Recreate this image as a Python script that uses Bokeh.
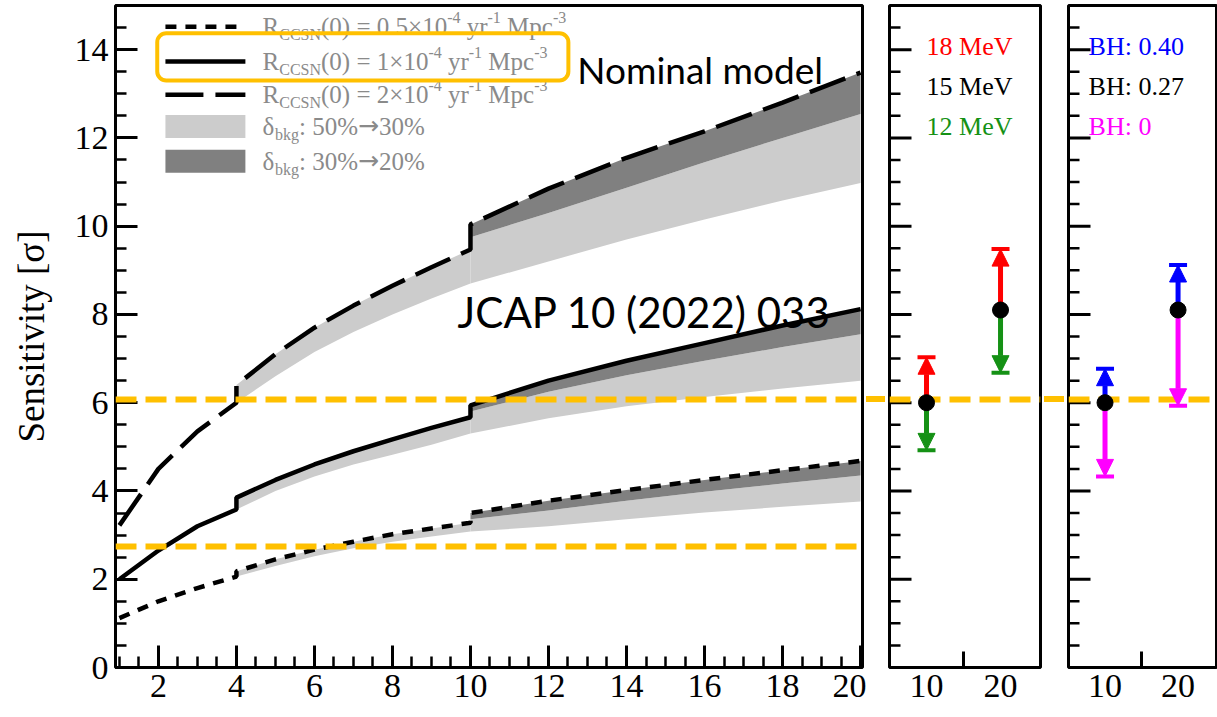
from bokeh.plotting import figure
from bokeh.layouts import row
from bokeh.models import (ColumnDataSource, Span, Label, BoxAnnotation, Arrow, NormalHead,
                          SingleIntervalTicker, FixedTicker, Range1d, Div)
from bokeh.core.properties import value
from bokeh.embed import file_html
from bokeh.resources import INLINE

# ---------------- data ----------------
x_early = [1, 2, 3, 4]
x_mid = [4, 5, 6, 7, 8, 9, 10]
x_late = [10, 12, 14, 16, 18, 20]

# R_CCSN(0) = 0.5e-4
r05_early = [1.12, 1.5, 1.8, 2.06]
r05_mid = [2.18, 2.45, 2.67, 2.85, 3.02, 3.15, 3.28]
r05_late = [3.5, 3.78, 4.02, 4.25, 4.47, 4.68]
r05_low_mid = [2.06, 2.3, 2.52, 2.7, 2.85, 2.97, 3.08]
r05_low_late = [3.08, 3.2, 3.36, 3.51, 3.64, 3.76]
r05_dark_late = [3.36, 3.56, 3.78, 3.98, 4.17, 4.35]

# R_CCSN(0) = 1e-4 (nominal)
r1_early = [2.0, 2.65, 3.2, 3.58]
r1_mid = [3.85, 4.25, 4.6, 4.9, 5.17, 5.43, 5.67]
r1_late = [5.94, 6.5, 6.95, 7.35, 7.75, 8.12]
r1_low_mid = [3.58, 4.0, 4.33, 4.6, 4.82, 5.05, 5.3]
r1_low_late = [5.3, 5.65, 5.92, 6.13, 6.32, 6.5]
r1_dark_late = [5.8, 6.25, 6.62, 6.95, 7.26, 7.55]

# R_CCSN(0) = 2e-4
r2_early = [3.22, 4.5, 5.35, 6.0]
r2_mid = [6.4, 7.1, 7.7, 8.2, 8.65, 9.07, 9.47]
r2_late = [10.04, 10.85, 11.55, 12.15, 12.8, 13.48]
r2_low_mid = [6.0, 6.6, 7.15, 7.6, 8.0, 8.36, 8.7]
r2_low_late = [8.7, 9.2, 9.7, 10.15, 10.58, 10.98]
r2_dark_late = [9.75, 10.3, 10.87, 11.45, 12.0, 12.54]

threshold_levels = [6.07, 2.74]

# side panels
side_x = [10, 20]
side_center = [6.0, 8.1]
energy_18 = [7.03, 9.48]
energy_12 = [4.92, 6.68]
bh_040 = [6.77, 9.12]
bh_0 = [4.33, 5.93]
energy_labels = ["18 MeV", "15 MeV", "12 MeV"]
energy_colors = ["#FF0000", "#000000", "#159115"]
bh_labels = ["BH: 0.40", "BH: 0.27", "BH: 0"]
bh_colors = ["#0000FF", "#000000", "#FF00FF"]

y_ticks = list(range(0, 15, 2))
y_minor_ticks = [i * 0.5 for i in range(0, 30) if i % 4 != 0]

# ---------------- style ----------------
SERIF = "Liberation Serif"
ORANGE = "#FFC000"
LIGHT = "#cccccc"
DARK = "#808080"
GREY_TXT = "#8a8a8a"
H = 717
TOP, BOTTOM = 5, 50


def style_frame(p):
    p.outline_line_color = "black"
    p.outline_line_width = 3
    p.grid.visible = False
    for ax in (p.xaxis[0], p.yaxis[0]):
        ax.axis_line_color = None
        ax.major_tick_in = 22
        ax.major_tick_out = 0
        ax.minor_tick_in = 11
        ax.minor_tick_out = 0
        ax.major_tick_line_width = 3
        ax.minor_tick_line_width = 2.5
        ax.major_label_text_font = SERIF
        ax.major_label_text_font_style = "normal"
        ax.major_label_text_font_size = "34px"
        ax.major_label_text_color = "black"
    p.xaxis.major_label_standoff = 7


# ---------------- main panel ----------------
p = figure(width=866, height=H, x_range=Range1d(0.9, 20.05), y_range=Range1d(0, 15),
           output_backend="svg", toolbar_location=None,
           min_border_left=115, min_border_right=4, min_border_top=TOP, min_border_bottom=BOTTOM)
style_frame(p)
p.xaxis.ticker = SingleIntervalTicker(interval=2, num_minor_ticks=4)
p.yaxis.ticker = SingleIntervalTicker(interval=2, num_minor_ticks=4)
p.yaxis.major_label_standoff = 7
p.yaxis.axis_label = "Sensitivity [σ]"
p.yaxis.axis_label_text_font = SERIF
p.yaxis.axis_label_text_font_style = "normal"
p.yaxis.axis_label_text_color = "black"
p.yaxis.axis_label_text_font_size = "37px"
p.yaxis.axis_label_standoff = 20

curves = [
    (r05_early, r05_mid, r05_late, r05_low_mid, r05_low_late, r05_dark_late, "11 9"),
    (r1_early, r1_mid, r1_late, r1_low_mid, r1_low_late, r1_dark_late, "solid"),
    (r2_early, r2_mid, r2_late, r2_low_mid, r2_low_late, r2_dark_late, "38 12"),
]
for early, mid, late, low_mid, low_late, dark_late, dash in curves:
    p.varea(x=x_mid, y1=low_mid, y2=mid, fill_color=LIGHT)
    p.varea(x=x_late, y1=low_late, y2=dark_late, fill_color=LIGHT)
    p.varea(x=x_late, y1=dark_late, y2=late, fill_color=DARK)
for early, mid, late, low_mid, low_late, dark_late, dash in curves:
    p.line(x=x_early + x_mid + x_late, y=early + mid + late, line_color="black",
           line_width=4.5, line_dash=dash)

for lvl in threshold_levels:
    p.add_layout(Span(location=lvl, dimension="width", line_color=ORANGE,
                      line_width=6, line_dash="21 9"))

# legend (drawn manually)
TW = {' ': 250, '(': 333, ')': 333, '=': 564, '×': 564, '.': 250, ':': 278, '%': 833,
      '→': 838, 'R': 667, 'C': 667, 'S': 556, 'N': 722, 'M': 889, 'y': 500, 'r': 333,
      'p': 500, 'c': 444, 'b': 500, 'k': 500, 'g': 500, '-': 333, 'δ': 500}


def tw(s, size):
    return sum(TW.get(ch, 500) for ch in s) / 1000.0 * size


def rich(fig, x, y, segs, color, base=25, small=16):
    off = 0.0
    for text, kind in segs:
        size = base if kind in ("n", "arrow") else small
        dy = {"n": 0, "arrow": 1, "sup": 9, "sub": -8}[kind]
        font = "DejaVu Sans" if kind == "arrow" else SERIF
        lead = len(text) - len(text.lstrip(" "))
        off += tw(" " * lead, size)
        core = text.strip(" ")
        fig.add_layout(Label(x=x, y=y, x_offset=off, y_offset=dy, text=core,
                             text_font=font, text_font_size=f"{size}px",
                             text_color=color, text_baseline="middle", text_align="left"))
        off += tw(core, size)


leg_x0, leg_x1, txt_x = 2.18, 4.23, 4.67
line_rows = [(14.52, "0.5", "11 9"), (13.73, "1", "solid"), (12.98, "2", "38 12")]
for yy, coef, dash in line_rows:
    p.line(x=[leg_x0, leg_x1], y=[yy, yy], line_color="black", line_width=4.5, line_dash=dash)
    rich(p, txt_x, yy, [("R", "n"), ("CCSN", "sub"), (f"(0) = {coef}×10", "n"), ("-4", "sup"),
                        (" yr", "n"), ("-1", "sup"), (" Mpc", "n"), ("-3", "sup")], GREY_TXT)
box_rows = [(12.26, LIGHT, "50%", "30%"), (11.47, DARK, "30%", "20%")]
for yy, col, a, b in box_rows:
    p.quad(left=leg_x0, right=leg_x1, bottom=yy - 0.26, top=yy + 0.26, fill_color=col, line_color=None)
    rich(p, txt_x, yy, [("δ", "n"), ("bkg", "sub"), (": " + a, "n"), ("→", "arrow"), (b, "n")],
         GREY_TXT)

p.add_layout(BoxAnnotation(left=1.97, right=12.51, bottom=13.3, top=14.37, fill_alpha=0,
                           line_color=ORANGE, line_alpha=1, line_width=4, border_radius=9))
p.add_layout(Label(x=12.74, y=13.55, text="Nominal model", text_font="Lato",
                   text_font_size="37px", text_color="black", text_baseline="middle"))
p.add_layout(Label(x=9.67, y=8.05, text="JCAP 10 (2022) 033", text_font="Lato",
                   text_font_size="42px", text_color="black", text_baseline="middle"))


# ---------------- side panels ----------------
def side_panel(width, border_right, up, down, up_col, down_col, labels, colors, label_x):
    s = figure(width=width, height=H, x_range=Range1d(5, 25.4), y_range=Range1d(0, 15),
               output_backend="svg", toolbar_location=None,
               min_border_left=4, min_border_right=border_right,
               min_border_top=TOP, min_border_bottom=BOTTOM)
    style_frame(s)
    s.yaxis.visible = False
    s.xaxis.ticker = FixedTicker(ticks=side_x, minor_ticks=[15])
    s.xaxis.major_tick_in = 0
    s.xaxis.minor_tick_in = 16
    s.xaxis.minor_tick_line_width = 3
    # y ticks on the left edge (no labels in these panels)
    s.ray(x=5, y=y_ticks, length=22, length_units="screen", angle=0, line_color="black", line_width=3)
    s.ray(x=5, y=y_minor_ticks, length=11, length_units="screen", angle=0, line_color="black",
          line_width=2.5)
    s.add_layout(Span(location=threshold_levels[0], dimension="width", line_color=ORANGE,
                      line_width=6, line_dash="21 9"))
    for tgt, col in ((up, up_col), (down, down_col)):
        src = ColumnDataSource(dict(x=side_x, y0=side_center, y1=tgt))
        s.add_layout(Arrow(x_start="x", y_start="y0", x_end="x", y_end="y1", source=src,
                           line_color=col, line_width=5,
                           end=NormalHead(size=17, fill_color=col, line_color=col, line_width=1)))
        s.scatter(x="x", y="y1", source=src, marker="dash", size=18, line_width=4, line_color=col)
    s.scatter(x=side_x, y=side_center, size=16, color="black", level="overlay")
    tsrc = ColumnDataSource(dict(x=[label_x] * 3, y=[14.07, 13.17, 12.26], t=labels, c=colors))
    s.text(x="x", y="y", text="t", text_color="c", source=tsrc, text_font=value(SERIF),
           text_font_size="26px", text_baseline="middle", text_align="left")
    return s


s1 = side_panel(159, 4, energy_18, energy_12, "#FF0000", "#159115", energy_labels, energy_colors, 10.0)
s2 = side_panel(153, 0, bh_040, bh_0, "#0000FF", "#FF00FF", bh_labels, bh_colors, 7.75)


def gap(w):
    html = (f'<div style="width:{w}px;height:{H}px;position:relative;">'
            f'<div style="position:absolute;left:0;top:396px;width:{w}px;height:6px;'
            f'background:repeating-linear-gradient(90deg,{ORANGE} 0px,{ORANGE} 21px,'
            f'transparent 21px,transparent 30px);"></div></div>')
    return Div(text=html, width=w, height=H, margin=0)


layout = row(p, gap(19), s1, gap(20), s2, spacing=0)

open("out.html", "w").write(file_html(layout, INLINE))
